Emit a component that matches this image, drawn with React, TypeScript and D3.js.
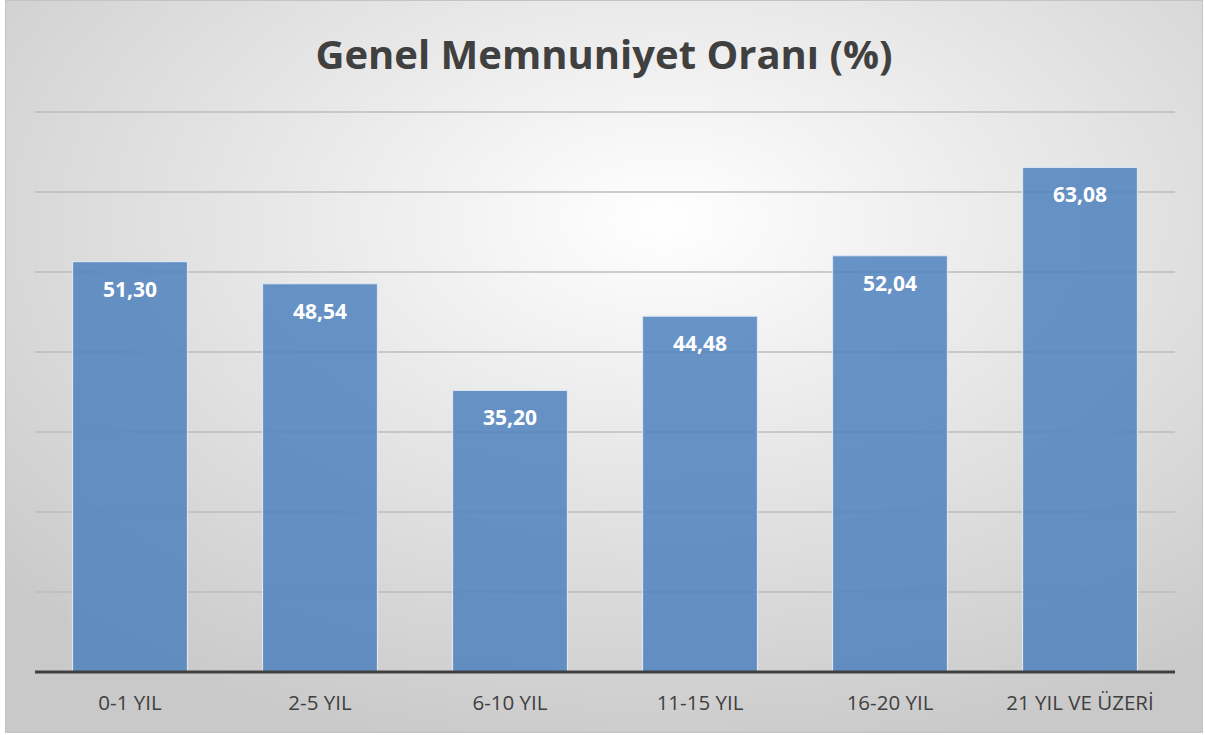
import React from "react";
import * as d3 from "d3";

const categories = ["0-1 YIL", "2-5 YIL", "6-10 YIL", "11-15 YIL", "16-20 YIL", "21 YIL VE ÜZERİ"];
const values = [51.3, 48.54, 35.2, 44.48, 52.04, 63.08];
const gridTicks = [0, 10, 20, 30, 40, 50, 60, 70];
const title = "Genel Memnuniyet Oranı (%)";

export default function App() {
  const W = 1205, H = 735;
  const x = d3.scaleBand<string>().domain(categories).range([35, 1175]).paddingInner(0.395).paddingOuter(0.1975);
  const y = d3.scaleLinear().domain([0, 70]).range([672, 112]);
  const fmt = (v: number) => v.toFixed(2).replace(".", ",");
  return (
    <svg width={W} height={H} style={{ position: "absolute", left: 0, top: 0 }} fontFamily="'Open Sans', sans-serif">
      <defs>
        <radialGradient id="bg" cx="0.55" cy="0.3" r="0.75" gradientUnits="objectBoundingBox">
          <stop offset="0" stopColor="#ffffff" />
          <stop offset="1" stopColor="#c9c9c9" />
        </radialGradient>
      </defs>
      <rect x={5.5} y={0.5} width={1197} height={732} fill="url(#bg)" stroke="#c4c4c4" strokeWidth={1} />
      <text x={604} y={69} textAnchor="middle" fontSize={40} fontWeight="bold" fill="#404040">{title}</text>
      {gridTicks.filter(t => t > 0).map(t => (
        <line key={t} x1={35} x2={1175} y1={y(t)} y2={y(t)} stroke="#bdbdbd" strokeWidth={1.3} />
      ))}
      {categories.map((c, i) => (
        <g key={c}>
          <rect x={x(c)} y={y(values[i])} width={x.bandwidth()} height={y(0) - y(values[i])}
            fill="#4f81bd" fillOpacity={0.85} stroke="#dce6f2" strokeWidth={1.2} />
          <text x={(x(c) as number) + x.bandwidth() / 2} y={y(values[i]) + 35} textAnchor="middle"
            fontSize={21} fontWeight="bold" fill="#ffffff">{fmt(values[i])}</text>
          <text x={(x(c) as number) + x.bandwidth() / 2} y={710} textAnchor="middle" fontSize={20.5} fill="#404040">{c}</text>
        </g>
      ))}
      <line x1={35} x2={1175} y1={y(0)} y2={y(0)} stroke="#404040" strokeWidth={3} />
    </svg>
  );
}
